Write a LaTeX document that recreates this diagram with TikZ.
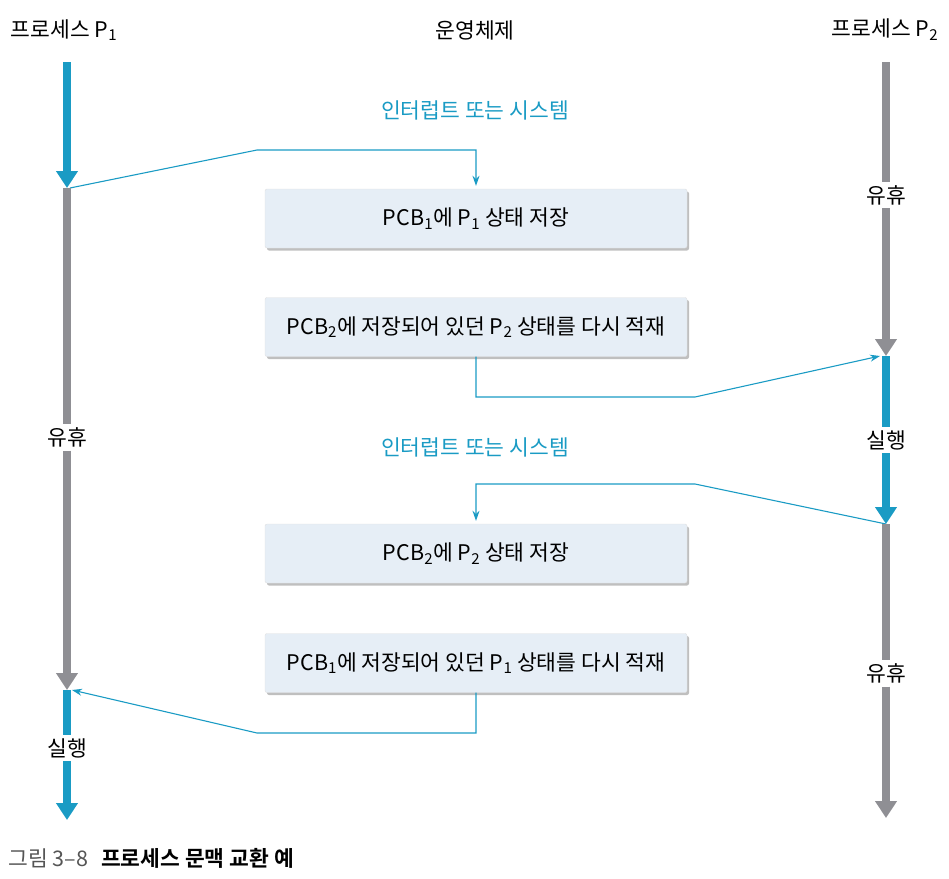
\documentclass[tikz,border=0pt]{standalone}
\usepackage{fontspec}
\setmainfont{Noto Sans CJK KR}[BoldFont={Noto Sans CJK KR Bold}]
\usepackage{tikz}
\usetikzlibrary{arrows.meta,shadows}
\definecolor{runcyan}{HTML}{1A9BC4}
\definecolor{idlegray}{HTML}{8F8F94}
\definecolor{boxblue}{HTML}{E6EEF6}
\definecolor{capgray}{HTML}{555555}

\begin{document}
\begin{tikzpicture}[x=1pt,y=-1pt]
        \tikzstyle{every node} = [font=\fontsize{21.5}{24}\selectfont]
        \tikzstyle{run} = [runcyan, line width=8pt]
        \tikzstyle{runtip} = [run, -{Triangle[width=21pt,length=17pt]}]
        \tikzstyle{idle} = [idlegray, line width=8pt]
        \tikzstyle{idletip} = [idle, -{Triangle[width=21pt,length=17pt]}]
        \tikzstyle{state} = [inner sep=3.5pt]
        \tikzstyle{osbox} = [rectangle, rounded corners=2pt, fill=boxblue, draw=black!12,
            minimum width=422pt, minimum height=59pt,
            drop shadow={shadow xshift=2pt, shadow yshift=-2.5pt, opacity=.5}]
        \tikzstyle{switch} = [runcyan, line width=1.1pt, -{Stealth[length=10pt,width=7pt]}]
        \useasboundingbox (0,0) rectangle (949,878);

        % headers
        \node (hP1) at (64,30) {프로세스 P\textsubscript{1}};
        \node (hOS) at (475,30) {운영체제};
        \node (hP2) at (885,30) {프로세스 P\textsubscript{2}};

        % process P1
        \coordinate (p1top) at (67,62);
        \coordinate (p1a) at (67,188);
        \node[state] (idle1) at (67,437) {유휴};
        \coordinate (p1b) at (67,690);
        \node[state] (run1) at (67,748) {실행};
        \coordinate (p1end) at (67,820);

        % process P2
        \coordinate (p2top) at (886,62);
        \node[state] (idle2a) at (886,195) {유휴};
        \coordinate (p2a) at (886,356);
        \node[state] (run2) at (886,440) {실행};
        \coordinate (p2b) at (886,524);
        \node[state] (idle2b) at (886,673) {유휴};
        \coordinate (p2end) at (886,818);

        % operating system
        \node[runcyan] (int1) at (475,110) {인터럽트 또는 시스템};
        \node[osbox] (box1) at (476,218.5) {PCB\textsubscript{1}에 P\textsubscript{1} 상태 저장};
        \node[osbox] (box2) at (476,327) {PCB\textsubscript{2}에 저장되어 있던 P\textsubscript{2} 상태를 다시 적재};
        \node[runcyan] (int2) at (475,447) {인터럽트 또는 시스템};
        \node[osbox] (box3) at (476,553.5) {PCB\textsubscript{2}에 P\textsubscript{2} 상태 저장};
        \node[osbox] (box4) at (476,663) {PCB\textsubscript{1}에 저장되어 있던 P\textsubscript{1} 상태를 다시 적재};

        \coordinate (k1) at (257,150);
        \coordinate (k2) at (695,397);
        \coordinate (k3) at (695,484);
        \coordinate (k4) at (257,733);

        % context switches
        \draw[switch, shorten >=3pt] ([xshift=3pt]p1a) -- (k1) -| (box1.north);
        \draw[switch] (box2.south) |- (k2) -- ([xshift=-6pt]p2a);
        \draw[switch, shorten >=3pt] (p2b) -- (k3) -| (box3.north);
        \draw[switch] (box4.south) |- (k4) -- ([xshift=5pt]p1b);

        \foreach \from/\to/\look in {p1top/p1a/runtip, p1a/idle1/idle, idle1/p1b/idletip,
                p1b/run1/run, run1/p1end/runtip,
                p2top/idle2a/idle, idle2a/p2a/idletip, p2a/run2/run, run2/p2b/runtip,
                p2b/idle2b/idle, idle2b/p2end/idletip}
            \draw[\look] (\from) -- (\to);

        % caption
        \node[anchor=west] (cap) at (5,858) {{\color{capgray}그림 3–8}\hspace{0.6em}\textbf{프로세스 문맥 교환 예}};
      \end{tikzpicture}
\end{document}
